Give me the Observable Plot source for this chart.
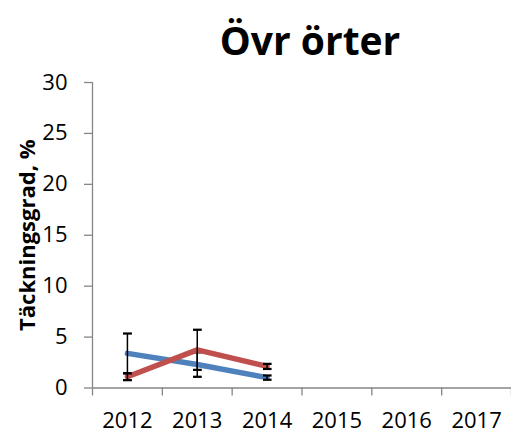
<!DOCTYPE html>
<html><head><meta charset="utf-8">
<script src="https://cdn.jsdelivr.net/npm/d3@7"></script>
<script src="https://cdn.jsdelivr.net/npm/@observablehq/plot@0.6"></script>
<style>body{margin:0;background:#fff;} svg{display:block}</style>
</head><body><div id="chart"></div>
<script>
const title = "Övr örter";
const yLabel = "Täckningsgrad, %";
const years = [2012, 2013, 2014, 2015, 2016, 2017];
const yTicks = [0, 5, 10, 15, 20, 25, 30];
const seriesNames = ["Serie 1", "Serie 2"];
const blueYears = [2012, 2013, 2014];
const blueValues = [3.4, 2.3, 1.02];
const blueErrors = [1.95, 1.2, 0.21];
const redYears = [2012, 2013, 2014];
const redValues = [1.1, 3.75, 2.12];
const redErrors = [0.33, 1.97, 0.25];
const colors = ["#4F81BD", "#C0504D"];

const toRows = (name, ys, vs, es) => ys.map((year, i) => ({series: name, year, value: vs[i], lo: vs[i] - es[i], hi: vs[i] + es[i]}));
const blue = toRows(seriesNames[0], blueYears, blueValues, blueErrors);
const red = toRows(seriesNames[1], redYears, redValues, redErrors);
const xDomain = [years[0] - 0.5, years[years.length - 1] + 0.5];
const boundaries = [...years.map(y => y - 0.5), xDomain[1]];
const font = "'Open Sans', sans-serif";
const axisColor = "#868686";

const chart = Plot.plot({
  width: 511, height: 438,
  marginLeft: 92, marginRight: 0, marginTop: 82, marginBottom: 50.5,
  style: {fontFamily: font, background: "#fff", color: "#000"},
  x: {type: "linear", domain: xDomain},
  y: {domain: [yTicks[0], yTicks[yTicks.length - 1]]},
  marks: [
    Plot.ruleY([yTicks[0]], {stroke: axisColor, strokeWidth: 1.3}),
    Plot.ruleX([xDomain[0]], {stroke: axisColor, strokeWidth: 1.3}),
    Plot.axisY({ticks: yTicks, tickSize: 8, tickPadding: 17, stroke: axisColor, strokeWidth: 1.3, fontSize: 22, fill: "#000", label: null, tickFormat: d => String(d)}),
    Plot.axisX({ticks: boundaries, tickSize: 8, tickFormat: () => "", stroke: axisColor, strokeWidth: 1.3, label: null}),
    Plot.axisX({ticks: years, tickSize: 0, tickPadding: 24, fontSize: 22, fill: "#000", tickFormat: d => String(d), label: null}),
    Plot.line(blue, {x: "year", y: "value", stroke: colors[0], strokeWidth: 5.5, strokeLinecap: "round"}),
    Plot.link(blue, {x1: "year", x2: "year", y1: "lo", y2: "hi", stroke: "#000", strokeWidth: 1.5, markerStart: "tick", markerEnd: "tick"}),
    Plot.line(red, {x: "year", y: "value", stroke: colors[1], strokeWidth: 5.5, strokeLinecap: "round"}),
    Plot.link(red, {x1: "year", x2: "year", y1: "lo", y2: "hi", stroke: "#000", strokeWidth: 1.5, markerStart: "tick", markerEnd: "tick"}),
    Plot.text([title], {frameAnchor: "top", dx: 8, dy: -55, lineAnchor: "top", fontSize: 39, fontWeight: "bold", fill: "#000"}),
    Plot.text([yLabel], {frameAnchor: "left", dx: -65, rotate: -90, textAnchor: "middle", fontSize: 22, fontWeight: "bold", fill: "#000"})
  ]
});
document.getElementById("chart").append(chart);
</script>
</body></html>
